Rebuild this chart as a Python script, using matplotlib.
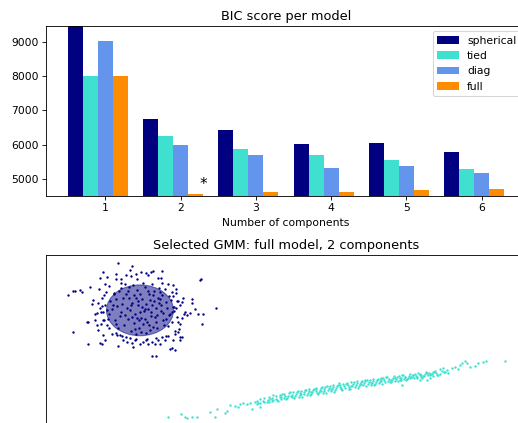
import numpy as np
import matplotlib
matplotlib.use("Agg")
import matplotlib.pyplot as plt
from matplotlib.patches import Ellipse

# ---------------- data ----------------
n_components = [1, 2, 3, 4, 5, 6]
cv_types = ["spherical", "tied", "diag", "full"]
colors = ["navy", "turquoise", "cornflowerblue", "darkorange"]

bic_spherical = [9457, 6757, 6437, 6029, 6058, 5778]
bic_tied = [8009, 6243, 5865, 5699, 5553, 5291]
bic_diag = [9011, 5981, 5695, 5330, 5379, 5175]
bic_full = [8012, 4554, 4612, 4631, 4680, 4709]
bic_series = [bic_spherical, bic_tied, bic_diag, bic_full]

# cluster 0: round cluster (navy)
c0_x = [7.23, 8.57, 5.67, 7.0, 9.5, 9.97, 6.07, 7.5, 5.4, 8.5, 9.07, 7.5, 5.9, 4.4, 2.9, 2.23,
        3.57, 5.33, 6.83, 4.73, 5.57, 5.23, 5.4, 5.73, 5.13, 4.9, 4.07, 5.73, 6.07, 2.73, 3.4,
        15.4, 15.5, 16.97, 15.73, 15.57, 2.67, 4.23, 5.4, 7.23, 8.73, 10.57, 10.97, 12.57, 12.9,
        13.4, 13.57, 10.73, 11.57, 11.47, 11.57, 12.73, 13.0, 12.67, 13.73, 14.63, 14.57, 13.13,
        13.4, 12.83, 13.9, 14.4, 14.9, 15.23, 13.07, 13.57, 13.23, 12.57, 14.07, 13.33, 12.9,
        13.4, 12.73, 12.23, 11.9, 11.57, 11.23, 11.4, 10.9, 10.57, 9.73, 10.07, 12.4, 4.23, 4.9,
        5.07, 5.47, 5.23, 5.73, 5.57, 5.9, 6.57, 7.07, 7.4, 7.67, 8.07, 8.4, 8.57, 8.9, 9.4, 10.23,
        7.0, 7.5, 8.0, 8.2, 8.6, 8.9, 9.1, 9.3, 9.6, 9.8, 10.1, 10.3, 10.6, 10.9, 11.2, 11.5, 11.8,
        12.0, 12.3, 6.6, 6.9, 7.3, 7.8, 8.3, 8.5, 9.0, 9.5, 9.9, 10.4, 10.7, 11.0, 11.4, 11.7, 12.1,
        12.5, 6.4, 7.2, 7.6, 8.1, 8.4, 8.8, 9.2, 9.4, 9.7, 10.0, 10.2, 10.5, 10.8, 11.1, 11.3, 11.6,
        12.4, 12.7, 6.8, 7.4, 7.9, 8.7, 9.0, 10.0, 10.6, 11.9, 12.6, 6.3, 7.1, 8.3, 9.3, 9.9, 10.4,
        11.0, 11.5, 12.2, 13.0, 5.9, 6.2, 13.2,
        5.6, 5.8, 6.3, 7.0, 8.0, 9.0, 10.2, 11.2, 12.2, 13.0, 13.6, 13.8, 13.4, 12.9, 12.0, 11.0,
        10.0, 9.0, 8.0, 7.0, 6.3, 5.8, 5.5, 6.0, 12.6, 13.2, 7.6, 10.5, 8.4, 4.6,
        6.7, 7.0, 7.7, 7.9, 8.2, 8.5, 8.8, 9.1, 9.4, 9.6, 9.9, 10.2, 10.5, 10.8, 11.1, 11.4, 11.7,
        12.0, 12.3, 9.2, 8.6, 10.3, 11.3, 7.5, 9.7, 8.9, 10.7, 12.8, 6.1, 9.5]
c0_y = [16.1, 15.87, 15.27, 15.0, 15.27, 15.13, 14.77, 14.53, 14.6, 14.87, 14.5, 14.1, 14.0, 13.77,
        13.37, 12.93, 13.27, 13.53, 13.1, 12.43, 12.6, 12.1, 11.6, 11.27, 11.1, 10.43, 10.27, 10.43,
        9.93, 13.3, 13.4, 14.47, 14.57, 11.67, 11.07, 10.0, 9.23, 8.07, 8.13, 7.8, 7.73, 6.8, 6.8,
        7.67, 7.47, 8.4, 8.73, 15.37, 15.33, 14.67, 14.1, 13.93, 13.1, 12.87, 12.67, 12.53, 12.17,
        12.33, 11.93, 11.77, 11.27, 11.1, 11.53, 11.0, 10.77, 10.6, 10.27, 11.27, 10.9, 9.57, 9.07,
        8.73, 8.47, 8.8, 8.47, 8.73, 8.47, 8.07, 8.07, 8.23, 8.23, 8.57, 7.57, 10.23, 11.0, 9.9,
        10.07, 9.47, 8.9, 8.07, 8.47, 9.07, 8.9, 8.9, 8.47, 8.23, 8.67, 8.13, 8.47, 8.07, 8.0,
        12.5, 11.2, 13.0, 10.5, 12.1, 11.0, 13.4, 9.6, 12.5, 11.3, 10.2, 13.0, 11.9, 10.7, 12.6,
        11.3, 9.9, 12.2, 10.9, 11.5, 10.4, 13.3, 9.9, 13.7, 9.3, 12.6, 10.6, 13.7, 9.4, 12.9, 11.6,
        13.2, 10.4, 11.6, 12.4, 12.3, 9.6, 12.0, 11.6, 11.4, 10.1, 11.9, 11.2, 10.0, 12.0, 11.5,
        10.8, 13.3, 9.6, 12.1, 12.9, 11.0, 11.7, 13.0, 10.8, 14.0, 13.9, 9.0, 9.1, 14.0, 13.5,
        10.2, 11.0, 11.8, 12.6, 10.4, 11.5, 12.4, 10.2, 11.9, 9.8, 11.6, 11.9, 10.5, 12.3,
        11.8, 12.9, 13.8, 14.5, 14.9, 15.0, 14.9, 14.6, 14.0, 13.5, 12.2, 11.0, 10.0, 9.3, 8.8, 8.6,
        8.4, 8.5, 8.7, 9.1, 9.6, 10.4, 11.2, 13.2, 13.2, 9.2, 8.8, 15.2, 15.4, 12.0,
        11.9, 10.0, 12.6, 10.9, 13.3, 11.9, 12.9, 10.6, 13.0, 11.7, 10.5, 13.3, 11.2, 12.3, 10.9,
        12.5, 11.1, 10.5, 12.8, 12.3, 10.7, 9.9, 13.6, 13.6, 14.1, 9.5, 9.7, 11.3, 11.4, 9.2]

# cluster 1: elongated cluster (turquoise)
c1_x = [12.23, 13.47, 13.9, 14.07, 14.57, 15.07, 16.4, 16.9, 17.07, 17.9, 18.07, 18.4, 18.9, 19.23,
        19.4, 19.73, 20.13, 20.4, 20.57, 20.9, 21.23, 21.4, 21.73, 22.07, 22.4, 22.73,
        45.9, 44.0, 43.73, 43.23, 42.9, 42.4, 42.07, 41.9, 41.57, 41.4, 41.23, 40.9, 40.57, 40.07,
        39.9, 39.67, 39.4, 38.9, 38.73, 38.4, 38.07, 37.73, 37.4, 37.07, 36.73, 36.4, 35.9, 35.4,
        34.9, 37.4, 38.07, 35.57, 38.4,
        21.05, 21.12, 21.43, 21.38, 21.82, 21.76, 22.18, 22.25, 22.31, 22.62, 22.55, 22.68,
        23.03, 22.96, 23.1, 23.42, 23.35, 23.48, 23.84, 23.77, 23.9, 24.2, 24.28, 24.13,
        24.63, 24.55, 24.7, 25.02, 24.94, 25.1, 25.41, 25.35, 25.48, 25.3, 25.83, 25.76, 25.9,
        26.2, 26.27, 26.14, 26.3, 26.6, 26.68, 26.53, 27.02, 26.95, 27.1, 27.04, 27.41, 27.33,
        27.48, 27.82, 27.75, 27.9, 27.7, 28.2, 28.27, 28.13, 28.6, 28.67, 28.52, 28.7, 29.0,
        29.07, 28.94, 29.42, 29.35, 29.48, 29.3, 29.8, 29.87, 29.73, 30.2, 30.27, 30.13, 30.3,
        30.6, 30.67, 30.53, 31.0, 31.07, 30.94, 31.1, 31.4, 31.47, 31.33, 31.8, 31.87, 31.73,
        31.9, 32.2, 32.27, 32.13, 32.6, 32.67, 32.53, 32.7, 33.0, 33.07, 32.94, 33.4, 33.47,
        33.33, 33.5, 33.8, 33.87, 33.73, 34.2, 34.27, 34.13, 34.6, 34.67, 34.53, 35.0, 35.07,
        34.94, 35.4, 35.47, 35.33, 35.8, 35.87, 35.73, 36.2, 36.27, 36.13, 36.6, 36.67, 37.0,
        37.07, 36.94, 37.4, 37.47, 37.8, 37.87, 38.2, 38.27, 38.6, 38.67, 39.0, 39.07, 39.4,
        39.8,
        23.2, 23.6, 24.0, 24.4, 24.8, 25.2, 25.6, 26.0, 26.4, 26.8, 27.2, 27.6, 28.0, 28.4, 28.8,
        29.2, 29.6, 30.0, 30.4, 30.8, 31.2, 31.6, 32.0, 32.4, 32.8, 33.2, 33.6, 34.0, 34.4, 34.8,
        35.2, 35.6, 36.0, 36.4, 36.8, 37.2, 37.6, 38.0, 38.8, 39.2, 39.6, 40.2,
        23.5, 24.5, 25.5, 26.5, 27.5, 28.5, 29.5, 30.5, 31.5, 32.5, 33.5, 34.5, 35.5, 36.5, 37.5,
        38.5]
c1_y = [0.67, 0.97, 0.73, 0.57, 0.73, 0.73, 1.23, 0.73, 1.47, 1.13, 1.33, 1.9, 1.8, 1.73,
        2.0, 2.07, 1.97, 2.07, 1.47, 2.23, 2.07, 1.67, 2.33, 2.23, 2.47, 2.4,
        6.33, 6.3, 6.17, 6.07, 5.83, 5.73, 6.07, 6.3, 6.07, 5.9, 5.5, 5.73, 5.63, 5.4,
        5.23, 5.63, 5.5, 5.3, 5.17, 4.9, 5.07, 4.83, 4.97, 4.73, 4.9, 4.57, 4.73, 4.4,
        4.57, 4.4, 4.4, 3.9, 4.57,
        2.0, 2.3, 2.5, 2.1, 2.2, 2.6, 2.4, 2.7, 2.2, 2.6, 2.3, 2.9,
        2.5, 2.8, 2.4, 2.7, 2.9, 2.5, 2.6, 3.0, 2.8, 2.8, 3.1, 2.6,
        2.9, 2.7, 3.2, 3.0, 2.8, 3.2, 3.1, 2.9, 3.3, 2.7, 3.0, 3.2, 3.4,
        3.1, 3.3, 2.9, 3.5, 3.2, 3.4, 3.0, 3.3, 3.5, 3.1, 3.6, 3.4, 3.2,
        3.6, 3.5, 3.3, 3.7, 3.1, 3.4, 3.6, 3.8, 3.5, 3.7, 3.3, 3.9, 3.6,
        3.8, 3.4, 3.7, 3.9, 3.5, 4.1, 3.8, 3.6, 4.0, 3.9, 3.7, 4.1, 3.5,
        3.8, 4.0, 4.2, 3.9, 4.1, 3.7, 4.3, 4.0, 4.2, 3.8, 4.1, 4.3, 3.9,
        4.4, 4.0, 4.2, 4.4, 4.1, 4.3, 3.9, 4.5, 4.2, 4.4, 4.0, 4.3, 4.5,
        4.1, 4.6, 4.4, 4.2, 4.6, 4.3, 4.5, 4.7, 4.4, 4.6, 4.2, 4.5, 4.7,
        4.3, 4.6, 4.4, 4.8, 4.5, 4.7, 4.9, 4.6, 4.8, 4.5, 4.7, 4.9, 4.8,
        4.6, 5.0, 4.9, 4.7, 4.8, 5.0, 4.9, 5.1, 5.0, 4.8, 5.1, 4.9, 5.0,
        5.2,
        2.35, 3.05, 2.5, 3.2, 2.65, 3.35, 2.75, 3.45, 2.9, 3.55, 3.0, 3.7, 3.15, 3.85, 3.25,
        3.95, 3.4, 4.05, 3.55, 4.2, 3.65, 4.3, 3.8, 4.45, 3.95, 4.55, 4.05, 4.7, 4.2, 4.8,
        4.3, 4.95, 4.45, 5.0, 4.6, 5.1, 4.65, 5.2, 5.2, 4.95, 5.35, 5.1,
        2.7, 2.85, 3.05, 3.2, 3.35, 3.5, 3.65, 3.85, 4.0, 4.15, 4.3, 4.45, 4.6, 4.75, 4.9,
        5.0]

# fitted ellipse of the round cluster: centre, full width, full height (data units)
ell_center = (9.4, 11.4)
ell_width = 6.7
ell_height = 5.1

# ---------------- figure ----------------
DPI = 77
fig = plt.figure(figsize=(518 / DPI, 423 / DPI), dpi=DPI)

W, H = 518.0, 423.0
left_px, right_px = 46, 526
ax1 = fig.add_axes([left_px / W, (H - 196) / H, (right_px - left_px) / W, 170 / H])
ax2 = fig.add_axes([left_px / W, (H - 424.5) / H, (right_px - left_px) / W, 169.5 / H])

xs = np.array(n_components, dtype=float)
bars = []
for i, (vals, col) in enumerate(zip(bic_series, colors)):
    xpos = xs + 0.2 * (i - 2)
    bars.append(ax1.bar(xpos, vals, width=0.2, color=col))

all_bic = np.array(bic_series)
ax1.set_xticks(n_components)
ax1.set_ylim(all_bic.min() * 1.01 - 0.01 * all_bic.max(), all_bic.max())
ax1.set_title("BIC score per model")
best = int(np.argmin(all_bic.ravel()))
xstar = best % len(n_components) + 0.65 + 0.2 * (best // len(n_components))
ax1.text(xstar, all_bic.min() * 0.97 + 0.03 * all_bic.max(), "*", fontsize=14)
ax1.set_xlabel("Number of components")
ax1.legend([b[0] for b in bars], cv_types, loc="upper right")

ax2.scatter(c0_x, c0_y, s=5, color="navy", linewidths=0)
ax2.scatter(c1_x, c1_y, s=5, color="turquoise", linewidths=0)
ell = Ellipse(ell_center, ell_width, ell_height, angle=0, color="navy")
ell.set_alpha(0.5)
ax2.add_artist(ell)
ax2.set_xlim(0, 48.0)
ax2.set_ylim(-0.05, 16.95)
ax2.set_xticks([])
ax2.set_yticks([])
ax2.set_title("Selected GMM: full model, 2 components")

fig.savefig("out.png", dpi=DPI)
